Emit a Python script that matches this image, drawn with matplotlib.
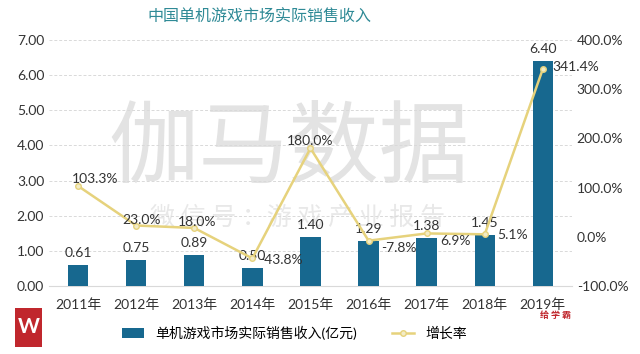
import matplotlib

matplotlib.use("Agg")
import matplotlib.pyplot as plt
from matplotlib.patches import Rectangle

plt.rcParams["font.family"] = ["Lato", "Noto Sans CJK SC", "DejaVu Sans"]

years = ["2011年", "2012年", "2013年", "2014年", "2015年", "2016年", "2017年", "2018年", "2019年"]
revenue = [0.61, 0.75, 0.89, 0.50, 1.40, 1.29, 1.38, 1.45, 6.40]
growth = [103.3, 23.0, 18.0, -43.8, 180.0, -7.8, 6.9, 5.1, 341.4]
left_ticks = [0, 1, 2, 3, 4, 5, 6, 7]
right_ticks = [-100, 0, 100, 200, 300, 400]

bar_color = "#17688f"
line_color = "#e6d27c"
text_color = "#333333"

fig = plt.figure(figsize=(6.4, 3.54), dpi=100)
ax = fig.add_axes([0.0766, 0.192, 0.817, 0.695])
ax2 = ax.twinx()

x = list(range(len(years)))

# watermark
fig.text(0.452, 0.575, "伽马数据", fontsize=65, color="#e3e3e3", ha="center", va="center",
         family="Noto Sans CJK SC", zorder=-1)
fig.text(0.465, 0.385, "微 信 号 ：游 戏 产 业 报 告", fontsize=18, color="#e8e8e8", ha="center",
         va="center", family="Noto Sans CJK SC", zorder=-1)

ax.bar(x, revenue, width=0.35, color=bar_color, zorder=3, label="单机游戏市场实际销售收入(亿元)")
ax.set_ylim(0, 7)
ax.set_yticks(left_ticks)
ax.set_yticklabels([f"{v:.2f}" for v in left_ticks])
ax.set_xlim(-0.5, len(years) - 0.5)
ax.set_xticks(x)
ax.set_xticklabels(years)
ax.grid(axis="y", color="#d9d9d9", linestyle=(0, (3, 2)), linewidth=0.7, zorder=0)
ax.set_axisbelow(True)
for s in ["top", "right", "left"]:
    ax.spines[s].set_visible(False)
ax.spines["bottom"].set_color("#d9d9d9")
ax.tick_params(axis="both", length=0, labelsize=10, colors=text_color)
ax.tick_params(axis="x", pad=9)
ax.patch.set_alpha(0)

for xi, v in zip(x, revenue):
    ax.text(xi, v + 0.17, f"{v:.2f}", ha="center", va="bottom", fontsize=10, color=text_color)

ax2.plot(x, growth, color=line_color, linewidth=1.8, marker="o", markersize=4,
         markerfacecolor="#f3ecc6", markeredgecolor=line_color, zorder=4, label="增长率")
ax2.set_ylim(-100, 400)
ax2.set_yticks(right_ticks)
ax2.set_yticklabels([f"{v:.1f}%" for v in right_ticks])
for s in ["top", "right", "left", "bottom"]:
    ax2.spines[s].set_visible(False)
ax2.tick_params(axis="y", length=0, labelsize=10, colors=text_color)

offsets = [(0.3, 15, "center"), (0.1, 12, "center"), (0.05, 12, "center"), (0.12, -3, "left"),
           (0.0, 14, "center"), (0.22, -14, "left"), (0.24, -15, "left"), (0.22, -2, "left"),
           (0.17, 4, "left")]
for xi, g, (dx, dy, ha) in zip(x, growth, offsets):
    ax2.text(xi + dx, g + dy, f"{g:.1f}%", ha=ha, va="center", fontsize=10, color=text_color, zorder=5)

fig.text(0.406, 0.952, "中国单机游戏市场实际销售收入", fontsize=11.5, color="#2f8a96", ha="center",
         va="center", family="Noto Sans CJK SC")

h1, l1 = ax.get_legend_handles_labels()
h2, l2 = ax2.get_legend_handles_labels()
fig.legend(h1 + h2, l1 + l2, loc="center", bbox_to_anchor=(0.46, 0.06), ncol=2, frameon=False,
           fontsize=10, handlelength=1.6, columnspacing=2.5, prop={"family": ["Lato", "Noto Sans CJK SC"]})

# logo marks
fig.patches.append(Rectangle((0.024, 0.02), 0.042, 0.11, transform=fig.transFigure,
                             facecolor="#c0272d", edgecolor="none"))
fig.text(0.045, 0.075, "W", fontsize=15, color="white", ha="center", va="center", weight="bold")
fig.text(0.868, 0.11, "给 学 霸", fontsize=6.5, color="#c0272d", ha="center", va="center",
         family="Noto Sans CJK SC", weight="bold")

fig.savefig("out.png")
